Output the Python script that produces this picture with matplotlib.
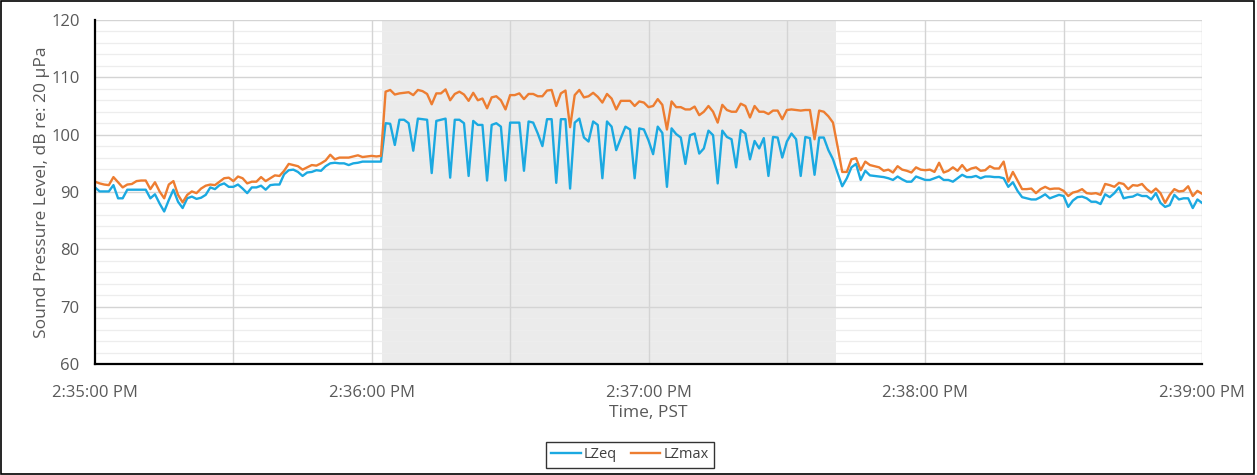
import numpy as np
import matplotlib
matplotlib.use("Agg")
import matplotlib.pyplot as plt
from matplotlib.patches import Rectangle
from matplotlib.ticker import MultipleLocator, FixedLocator

plt.rcParams['font.family'] = ['Open Sans', 'DejaVu Sans']

# seconds after 2:35:00 PM, one reading per second
seconds = np.arange(0, 241)

lzeq = [
    90.8, 90.1, 90.1, 90.1, 91.2, 88.9, 88.9, 90.4, 90.4, 90.4,
    90.4, 90.4, 88.9, 89.6, 88.0, 86.6, 88.6, 90.4, 88.3, 87.2,
    88.9, 89.2, 88.8, 89.0, 89.5, 90.8, 90.5, 91.2, 91.5, 90.9,
    90.9, 91.3, 90.6, 89.8, 90.8, 90.8, 91.1, 90.4, 91.2, 91.3,
    91.3, 93.1, 93.8, 93.9, 93.5, 92.8, 93.4, 93.5, 93.8, 93.7,
    94.5, 95.0, 95.1, 95.0, 95.0, 94.7, 95.0, 95.1, 95.3, 95.3,
    95.3, 95.3, 95.3, 102.0, 101.9, 98.2, 102.6, 102.6, 102.0, 97.2,
    102.8, 102.7, 102.6, 93.3, 102.4, 102.6, 102.8, 92.5, 102.6, 102.6,
    102.0, 92.8, 102.4, 101.7, 101.7, 92.0, 101.7, 102.0, 101.4, 92.0,
    102.1, 102.1, 102.1, 93.7, 102.3, 102.1, 100.2, 98.0, 102.7, 102.7,
    91.6, 102.7, 102.7, 90.6, 102.1, 102.8, 99.5, 98.8, 102.3, 101.7,
    92.4, 102.3, 101.4, 97.3, 99.4, 101.4, 100.9, 92.4, 101.1, 100.9,
    99.0, 96.6, 101.4, 100.3, 90.9, 101.1, 100.1, 99.5, 94.9, 99.9,
    100.2, 96.7, 97.6, 100.7, 99.9, 91.5, 100.7, 99.6, 99.2, 94.3,
    100.8, 100.2, 95.7, 98.9, 97.6, 99.4, 92.8, 99.6, 99.5, 96.0,
    98.8, 100.2, 99.2, 92.8, 99.6, 99.4, 93.0, 99.5, 99.5, 97.3,
    95.7, 93.3, 91.0, 92.4, 94.3, 94.9, 92.1, 93.7, 92.9, 92.8,
    92.7, 92.6, 92.4, 92.1, 92.7, 92.2, 91.8, 91.8, 92.7, 92.4,
    92.1, 92.1, 92.4, 92.7, 92.1, 92.1, 91.8, 92.4, 93.0, 92.6,
    92.6, 92.8, 92.4, 92.7, 92.7, 92.6, 92.6, 92.4, 90.9, 91.7,
    90.2, 89.1, 88.9, 88.7, 88.7, 89.1, 89.6, 88.9, 89.2, 89.5,
    89.3, 87.4, 88.5, 89.1, 89.2, 88.9, 88.3, 88.3, 87.9, 89.6,
    89.1, 89.8, 90.8, 88.9, 89.1, 89.2, 89.6, 89.3, 89.3, 88.7,
    89.8, 88.1, 87.4, 87.7, 89.5, 88.7, 88.9, 88.9, 87.2, 88.7, 88.1,
]

lzmax = [
    91.8, 91.5, 91.3, 91.2, 92.6, 91.7, 90.8, 91.3, 91.4, 91.9,
    92.0, 92.0, 90.5, 91.7, 90.1, 88.9, 91.3, 91.9, 89.5, 88.2,
    89.5, 90.1, 89.8, 90.6, 91.1, 91.3, 91.2, 91.8, 92.4, 92.5,
    91.9, 92.7, 92.4, 91.5, 91.8, 91.8, 92.6, 91.9, 92.4, 92.9,
    92.8, 93.7, 94.9, 94.7, 94.5, 93.9, 94.3, 94.7, 94.6, 95.0,
    95.5, 96.5, 95.7, 96.0, 96.0, 96.0, 96.2, 96.4, 96.1, 96.2,
    96.3, 96.2, 96.3, 107.5, 107.8, 107.0, 107.2, 107.3, 107.4, 106.9,
    107.8, 107.6, 107.1, 105.3, 107.2, 107.2, 107.9, 106.0, 107.1, 107.5,
    107.0, 105.9, 107.3, 106.0, 106.3, 104.6, 106.5, 106.7, 106.0, 104.4,
    106.9, 106.9, 107.2, 106.2, 107.1, 107.1, 106.7, 106.7, 107.7, 107.8,
    105.0, 107.2, 107.7, 101.3, 106.9, 107.8, 106.5, 106.7, 107.3, 106.6,
    105.6, 107.1, 106.3, 104.4, 105.9, 105.9, 105.9, 105.0, 105.8, 105.6,
    104.8, 105.0, 106.2, 105.2, 100.9, 105.8, 104.8, 104.8, 104.4, 104.4,
    104.9, 103.4, 104.0, 105.0, 104.0, 102.1, 105.2, 104.3, 104.0, 104.0,
    105.4, 105.0, 103.0, 105.0, 104.0, 104.0, 103.6, 104.2, 104.2, 102.7,
    104.3, 104.4, 104.3, 104.2, 104.3, 104.3, 99.2, 104.2, 104.0, 103.2,
    102.1, 97.9, 93.5, 93.5, 95.7, 95.9, 93.8, 95.3, 94.7, 94.5,
    94.3, 93.7, 93.9, 93.4, 94.5, 93.9, 93.7, 93.4, 94.3, 93.9,
    93.8, 93.9, 93.5, 95.1, 93.4, 93.7, 94.3, 93.7, 94.7, 93.7,
    94.1, 94.3, 93.7, 93.8, 94.5, 94.1, 94.1, 95.3, 91.8, 93.5,
    92.0, 90.5, 90.5, 90.6, 89.8, 90.5, 90.9, 90.5, 90.6, 90.6,
    90.2, 89.3, 89.9, 90.1, 90.5, 89.8, 89.7, 89.8, 89.5, 91.4,
    91.2, 90.9, 91.6, 91.4, 90.5, 91.2, 91.1, 91.4, 90.5, 89.9,
    90.6, 89.8, 88.1, 89.5, 90.5, 90.1, 90.2, 91.0, 89.3, 90.2, 89.7,
]

# shaded event window, seconds
event_start = 62.2
event_end = 160.7

tick_seconds = [0, 60, 120, 180, 240]
tick_labels = ["2:35:00 PM", "2:36:00 PM", "2:37:00 PM", "2:38:00 PM", "2:39:00 PM"]

fig = plt.figure(figsize=(12.57, 4.75), dpi=100)
ax = fig.add_axes([95 / 1257, 1 - 364 / 475, 1107 / 1257, 344 / 475])

ax.axvspan(event_start, event_end, color="#ebebeb", zorder=0, lw=0)

# gridlines: light 2 dB lines first, then 10 dB and 30 s lines over them
for y in range(62, 120, 2):
    if y % 10:
        ax.axhline(y, color="#ededed", lw=0.9, zorder=1)
for y in range(70, 121, 10):
    ax.axhline(y, color="#d4d4d4", lw=1.0, zorder=1.5)
for x in range(30, 241, 30):
    ax.axvline(x, color="#d4d4d4", lw=1.0, zorder=1.5)

ax.plot(seconds, lzeq, color="#1ba9e1", lw=1.7, label="LZeq", zorder=3)
ax.plot(seconds, lzmax, color="#ed7d31", lw=1.7, label="LZmax", zorder=3)

ax.set_xlim(0, 240)
ax.set_ylim(60, 120)
ax.xaxis.set_major_locator(FixedLocator(tick_seconds))
ax.set_xticklabels(tick_labels)
ax.yaxis.set_major_locator(MultipleLocator(10))

for side in ("top", "right"):
    ax.spines[side].set_visible(False)
for side in ("left", "bottom"):
    ax.spines[side].set_color("black")
    ax.spines[side].set_linewidth(1.6)
    ax.spines[side].set_zorder(4)

ax.tick_params(which="both", length=0, labelsize=12, labelcolor="#595959")
ax.tick_params(axis="x", pad=15)
ax.tick_params(axis="y", pad=11)

ax.set_xlabel("Time, PST", fontsize=12.5, color="#595959")
ax.set_ylabel("Sound Pressure Level, dB re: 20 µPa", fontsize=12.5, color="#595959")
ax.xaxis.set_label_coords(0.5, -0.12)
ax.yaxis.set_label_coords(-0.041, 0.5)

leg = fig.legend(loc="center", bbox_to_anchor=(630 / 1257, 1 - 455 / 475), ncol=2,
                 frameon=True, fancybox=False, fontsize=10.5, handlelength=2.0,
                 columnspacing=1.0, handletextpad=0.2, borderpad=0.35)
leg.get_frame().set_edgecolor("black")
leg.get_frame().set_linewidth(1.0)
for txt in leg.get_texts():
    txt.set_color("#404040")

fig.patches.append(Rectangle((0.001, 0.002), 0.997, 0.995, transform=fig.transFigure,
                             fill=False, edgecolor="black", lw=1.2))

fig.savefig("out.png", dpi=100)
